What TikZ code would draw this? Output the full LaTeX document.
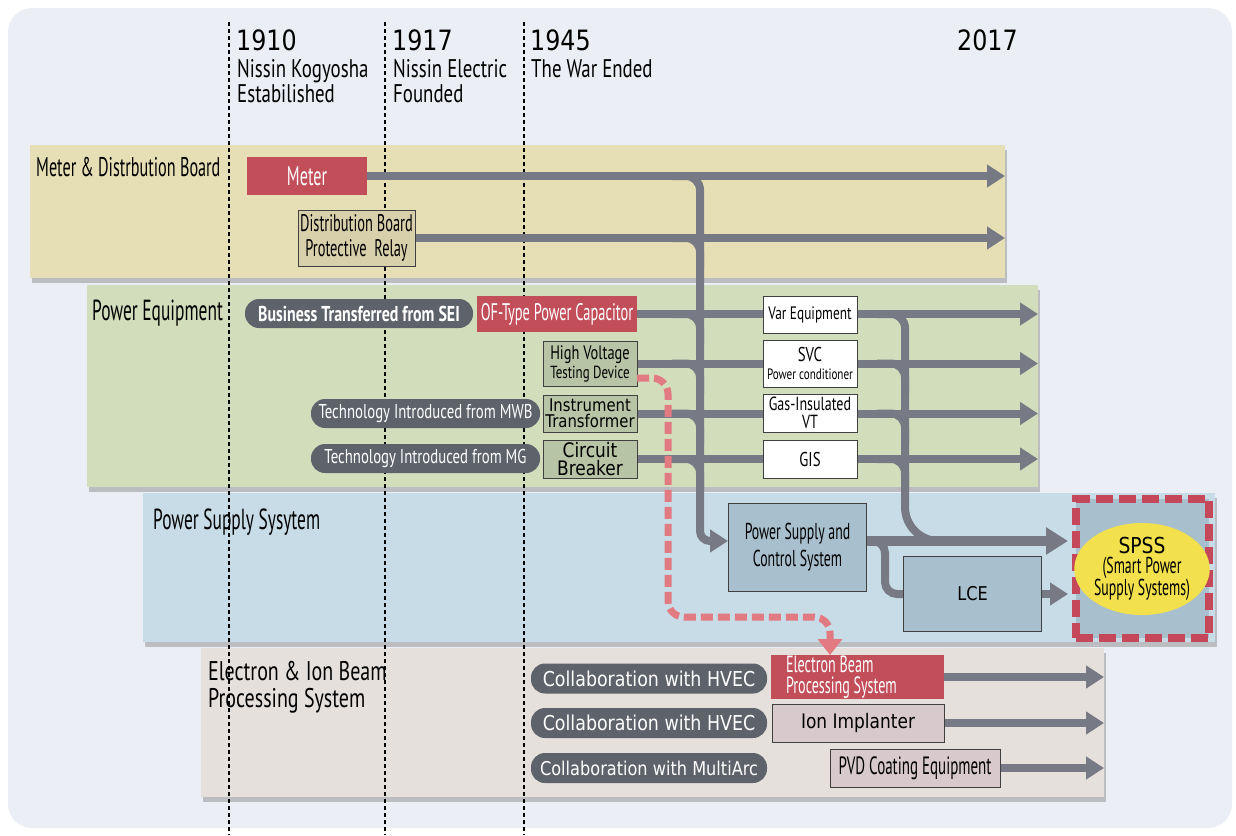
\documentclass[tikz,border=0pt]{standalone}
\usepackage{fontspec}
\usetikzlibrary{arrows.meta,shadows,shapes.geometric}
\newfontfamily\cnda[FakeStretch=0.6]{PT Sans}
\newfontfamily\cndb[FakeStretch=0.74]{PT Sans}
\newfontfamily\wid[FakeStretch=0.85]{DejaVu Sans}
\definecolor{bgc}{HTML}{ECEEF5}
\definecolor{yband}{HTML}{E6DFB6}
\definecolor{gband}{HTML}{D2DDBB}
\definecolor{bband}{HTML}{C8DCE8}
\definecolor{eband}{HTML}{E5E0DC}
\definecolor{redbx}{HTML}{C24E5A}
\definecolor{dbbx}{HTML}{D8CFAB}
\definecolor{grbx}{HTML}{B8C4A6}
\definecolor{blbx}{HTML}{A8BFCE}
\definecolor{pkbx}{HTML}{D8CACC}
\definecolor{pillc}{HTML}{5E626A}
\definecolor{flowc}{HTML}{777A84}
\definecolor{yell}{HTML}{F2E04C}
\definecolor{pinkc}{HTML}{E27A82}
\definecolor{spred}{HTML}{C4485A}
\pgfdeclarelayer{bands}
\pgfdeclarelayer{lines}
\pgfsetlayers{bands,lines,main}
\newcommand\fsz[2]{\fontsize{#1}{#2}\selectfont}
\begin{document}
\begin{tikzpicture}[x=1pt,y=-1pt,
  band/.style={drop shadow={shadow xshift=2pt,shadow yshift=-5pt,opacity=0.3,fill=black!70}},
  yearline/.style={draw=black, line width=1.1pt, dash pattern=on 4pt off 3pt},
  bx/.style={draw=black!75, line width=0.8pt, inner sep=0pt},
  redbox/.style={fill=redbx, inner sep=0pt, text=white},
  pillbox/.style={fill=pillc, rounded corners=14pt, inner sep=0pt, text=white},
  flow/.style={draw=flowc, line width=8pt, -{Triangle[length=18pt,width=22pt]}},
  elbow/.style={draw=flowc, line width=8pt, rounded corners=14pt},
  bandlabel/.style={anchor=base west, inner sep=0pt, font=\cnda\fsz{27}{27}},
  yeartxt/.style={anchor=base west, inner sep=0pt, font=\wid\fsz{28}{28}},
  yeardesc/.style={anchor=north west, inner sep=0pt, align=left, font=\cndb\fsz{25.5}{25}},
  pilltxt/.style={pillbox, font=\cndb\fsz{20}{20}},
  collab/.style={pillbox, minimum width=236pt, minimum height=30pt, font=\wid\fsz{20.5}{20}},
]
\useasboundingbox (0,0) rectangle (1236,835);

% background, bands and year lines
\begin{pgfonlayer}{bands}
  \fill[white] (0,0) rectangle (1236,835);
  \fill[bgc, rounded corners=24pt] (8,8) rectangle (1232,828);
  \fill[yband, band] (30,145) rectangle (1005,278);
  \fill[gband, band] (87,285) rectangle (1038,487);
  \fill[bband, band] (143,493) rectangle (1215,642);
  \fill[eband, band] (201,648) rectangle (1104,797);
  \draw[yearline] (229,22) -- (229,835);
  \draw[yearline] (385,22) -- (385,835);
  \draw[yearline] (524,22) -- (524,835);
\end{pgfonlayer}

% years
\node[yeartxt] (y1910) at (236,50) {1910};
\node[yeartxt] (y1917) at (392,50) {1917};
\node[yeartxt] (y1945) at (530,50) {1945};
\node[yeartxt] (y2017) at (957,50) {2017};
\node[yeardesc] (d1910) at (237,59) {Nissin Kogyosha\\Estabilished};
\node[yeardesc] (d1917) at (393,59) {Nissin Electric\\Founded};
\node[yeardesc] (d1945) at (531,59) {The War Ended};

% band labels
\node[bandlabel] (l1) at (36,176) {Meter \& Distrbution Board};
\node[bandlabel, font=\cnda\fsz{29}{29}] (l2) at (92,320) {Power Equipment};
\node[bandlabel, font=\cnda\fsz{29}{29}] (l3) at (153,529) {Power Supply Sysytem};
\node[bandlabel, anchor=north west, align=left, font=\cndb\fsz{27}{27}] (l4) at (208,661) {Electron \& Ion Beam\\Processing System};

% meter band
\node[redbox, minimum width=120pt, minimum height=38pt, font=\cnda\fsz{27}{27}] (meter) at (307,176) {Meter};
\node[bx, fill=dbbx, minimum width=117pt, minimum height=56pt, align=center, font=\cnda\fsz{24}{25}] (db) at (356.5,238) {Distribution Board\\Protective\ \ Relay};

% power equipment
\node[pilltxt, minimum width=228pt, minimum height=29pt, font=\cndb\bfseries\fsz{21.5}{20}] (sei) at (359,313.5) {Business Transferred from SEI};
\node[redbox, minimum width=160pt, minimum height=36pt, font=\cnda\fsz{24}{24}] (ofc) at (557,314) {OF-Type Power Capacitor};
\node[bx, fill=grbx, minimum width=94pt, minimum height=45pt, align=center, font=\cndb\fsz{19.5}{19}] (hv) at (590,363.5) {High Voltage\\{\fsz{17.5}{19}Testing Device}};
\node[pilltxt, minimum width=229pt, minimum height=29pt] (mwb) at (425.5,413.5) {Technology Introduced from MWB};
\node[bx, fill=grbx, minimum width=94pt, minimum height=37pt, align=center, font=\wid\fsz{17.5}{16}] (it) at (590,413.5) {Instrument\\Transformer};
\node[pilltxt, minimum width=229pt, minimum height=29pt] (mg) at (425.5,458.5) {Technology Introduced from MG};
\node[bx, fill=grbx, minimum width=94pt, minimum height=38pt, align=center, font=\wid\fsz{20}{18}] (cb) at (590,459) {Circuit\\Breaker};

\node[bx, fill=white, minimum width=94pt, minimum height=37pt, font=\cndb\fsz{18}{18}] (var) at (810,314.5) {Var Equipment};
\node[bx, fill=white, minimum width=94pt, minimum height=47pt, align=center, font=\cndb\fsz{20}{18}] (svc) at (810,363.5) {SVC\\{\fsz{15}{17}Power conditioner}};
\node[bx, fill=white, minimum width=94pt, minimum height=38pt, align=center, font=\cndb\fsz{19}{18}] (giv) at (810,413) {Gas-Insulated\\VT};
\node[bx, fill=white, minimum width=94pt, minimum height=38pt, font=\cndb\fsz{20}{20}] (gis) at (810,459) {GIS};

% power supply
\node[bx, fill=blbx, minimum width=138pt, minimum height=88pt, align=center, font=\cnda\fsz{23}{27}] (pscs) at (797.5,547.5) {Power Supply and\\Control System};
\node[bx, fill=blbx, minimum width=138pt, minimum height=75pt, font=\wid\fsz{19}{19}] (lce) at (972.5,594) {LCE};
\node[draw=spred, fill=blbx, line width=8pt, dash pattern=on 17pt off 6pt, minimum width=133pt, minimum height=139pt, inner sep=0pt] (spss) at (1142.5,568.5) {};
\node[ellipse, fill=yell, minimum width=124pt, minimum height=92pt, inner sep=0pt, align=center, font=\cnda\fsz{23}{20}] (spssin) at (1142,569) {{\wid\fsz{22}{22}SPSS}\\(Smart Power\\Supply Systems)};

% electron band
\node[collab] (hvec1) at (649,678.5) {Collaboration with HVEC};
\node[collab] (hvec2) at (649,723) {Collaboration with HVEC};
\node[collab, font=\wid\fsz{19}{19}] (marc) at (649,768) {Collaboration with MultiArc};
\node[redbox, minimum width=173pt, minimum height=44pt, text width=143pt, align=flush left, font=\cnda\fsz{23.5}{21.5}] (eb) at (857.5,677) {Electron Beam\\Processing System};
\node[bx, fill=pkbx, minimum width=172pt, minimum height=38pt, font=\wid\fsz{20}{20}] (ion) at (858,723) {Ion Implanter};
\node[bx, fill=pkbx, minimum width=170pt, minimum height=38pt, font=\cnda\fsz{25}{25}] (pvd) at (915,768) {PVD Coating Equipment};

% free ends
\coordinate (m1) at (1005,176);
\coordinate (m2) at (1005,238);
\coordinate (pin) at (728,541);
\coordinate (pout) at (866,541);
\coordinate (pk0) at (637,378);
\coordinate (pk1) at (830,655);

\begin{pgfonlayer}{lines}
  \draw[flow] (meter.east) -- (m1);
  \draw[flow] (db.east) -- (m2);
  \draw[flow] (ofc.east) -- (1038,314);
  \draw[flow] (hv.east) -- (1038,363.5);
  \draw[flow] (it.east) -- (1038,413.5);
  \draw[flow] (cb.east) -- (1038,459);
  % trunk 1
  \draw[flow] (672,176) [rounded corners=14pt] -- (700,176) [rounded corners=10pt] -- (700,541) -- (pin);
  \foreach \yy in {238,314,363.5,413.5,459}
    \draw[elbow] (672,\yy) -- (700,\yy) -- (700,\yy+30);
  % trunk 2
  \draw[elbow] (877,314) [rounded corners=14pt] -- (905,314) [rounded corners=34pt] -- (905,541) -- (980,541);
  \foreach \yy in {363.5,413.5,459}
    \draw[elbow] (877,\yy) -- (905,\yy) -- (905,\yy+30);
  % to SPSS
  \draw[flow, line width=10pt, -{Triangle[length=22pt,width=26pt]}, shorten >=4pt] (pout) -- (pout -| spss.west);
  \draw[elbow, rounded corners=12pt] (pout) -- (885,541) -- (885,594) -- (lce.west);
  \draw[flow, shorten >=4pt] (lce.east) -- (lce.east -| spss.west);
  % electron band arrows
  \draw[flow] (eb.east) -- (1104,677);
  \draw[flow] (ion.east) -- (1104,723);
  \draw[flow] (pvd.east) -- (1104,768);
\end{pgfonlayer}

% pink dashed arrow
\draw[pinkc, line width=7pt, dash pattern=on 12pt off 5pt, rounded corners=16pt, -{Triangle[length=16pt,width=24pt]}]
  (pk0) -- (668,378) -- (668,617) -- (830,617) -- (pk1);
\end{tikzpicture}
\end{document}
